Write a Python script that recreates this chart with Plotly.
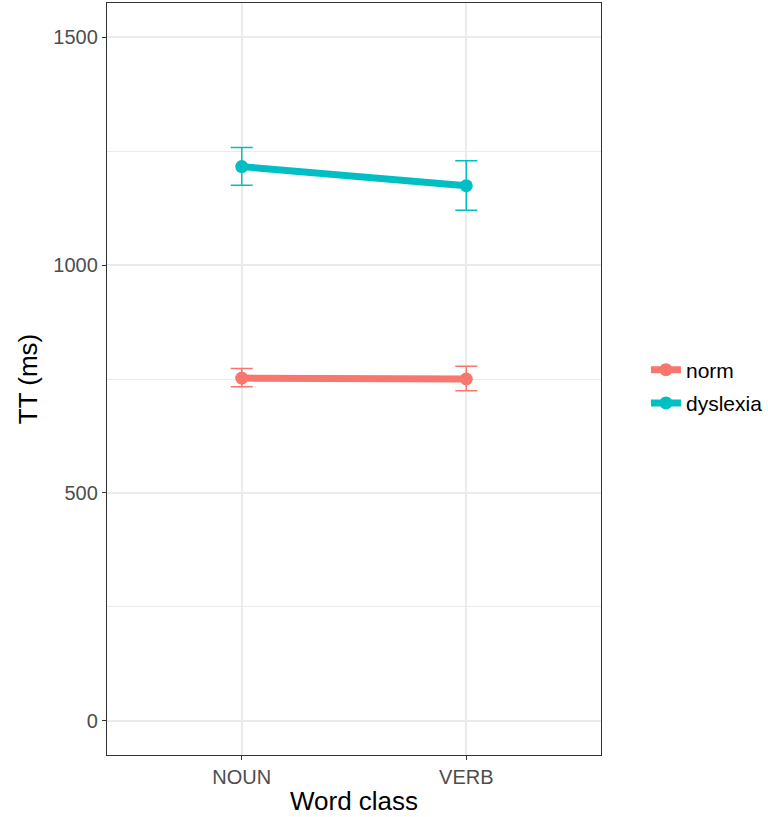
import plotly.graph_objects as go

categories = ["NOUN", "VERB"]
groups = ["norm", "dyslexia"]
colors = {"norm": "#F8766D", "dyslexia": "#00BFC4"}

norm_mean = [752, 750]
norm_upper = [773, 778]
norm_lower = [733, 724]

dys_mean = [1216, 1174]
dys_upper = [1258, 1229]
dys_lower = [1175, 1120]

yticks = [0, 500, 1000, 1500]

series = {
    "norm": (norm_mean, norm_upper, norm_lower),
    "dyslexia": (dys_mean, dys_upper, dys_lower),
}

FONT = "Liberation Sans, Arial, Helvetica, sans-serif"

fig = go.Figure()
for g in groups:
    m, up, lo = series[g]
    fig.add_trace(go.Scatter(
        x=categories, y=m, name=g, mode="lines+markers", legendgroup=g,
        line=dict(color=colors[g], width=7),
        marker=dict(color=colors[g], size=13),
        error_y=dict(type="data", symmetric=False,
                     array=[u - v for u, v in zip(up, m)],
                     arrayminus=[v - l for v, l in zip(m, lo)],
                     color=colors[g], thickness=1.5, width=11),
    ))

fig.update_layout(
    width=768, height=817,
    margin=dict(l=107, r=167, t=3, b=62, autoexpand=False),
    paper_bgcolor="white", plot_bgcolor="white",
    font=dict(family=FONT, color="#4D4D4D"),
    legend=dict(x=1.091, y=0.49, xanchor="left", yanchor="middle",
                font=dict(size=21, color="black", family=FONT),
                itemwidth=30, tracegroupgap=3, bgcolor="rgba(0,0,0,0)"),
    showlegend=True,
)
fig.update_xaxes(
    type="category", categoryorder="array", categoryarray=categories,
    range=[-0.6, 1.6],
    showgrid=True, gridcolor="#EBEBEB", gridwidth=2,
    showline=True, mirror=True, linecolor="#333333", linewidth=1.3,
    ticks="outside", ticklen=4, tickcolor="#333333", tickwidth=1.3,
    tickfont=dict(size=20, color="#4D4D4D", family=FONT),
    title=dict(text="Word class", font=dict(size=26, color="black", family=FONT), standoff=4),
    zeroline=False,
)
fig.update_yaxes(
    range=[-75, 1575], tickvals=yticks, ticktext=[str(t) for t in yticks],
    showgrid=True, gridcolor="#EBEBEB", gridwidth=2,
    minor=dict(dtick=250, tick0=0, showgrid=True, gridcolor="#EBEBEB", gridwidth=1.1, ticks=""),
    showline=True, mirror=True, linecolor="#333333", linewidth=1.3,
    ticks="outside", ticklen=4, tickcolor="#333333", tickwidth=1.3,
    tickfont=dict(size=20, color="#4D4D4D", family=FONT),
    title=dict(text="TT (ms)", font=dict(size=26, color="black", family=FONT), standoff=8),
    zeroline=False,
)

fig.write_html("out.html")
